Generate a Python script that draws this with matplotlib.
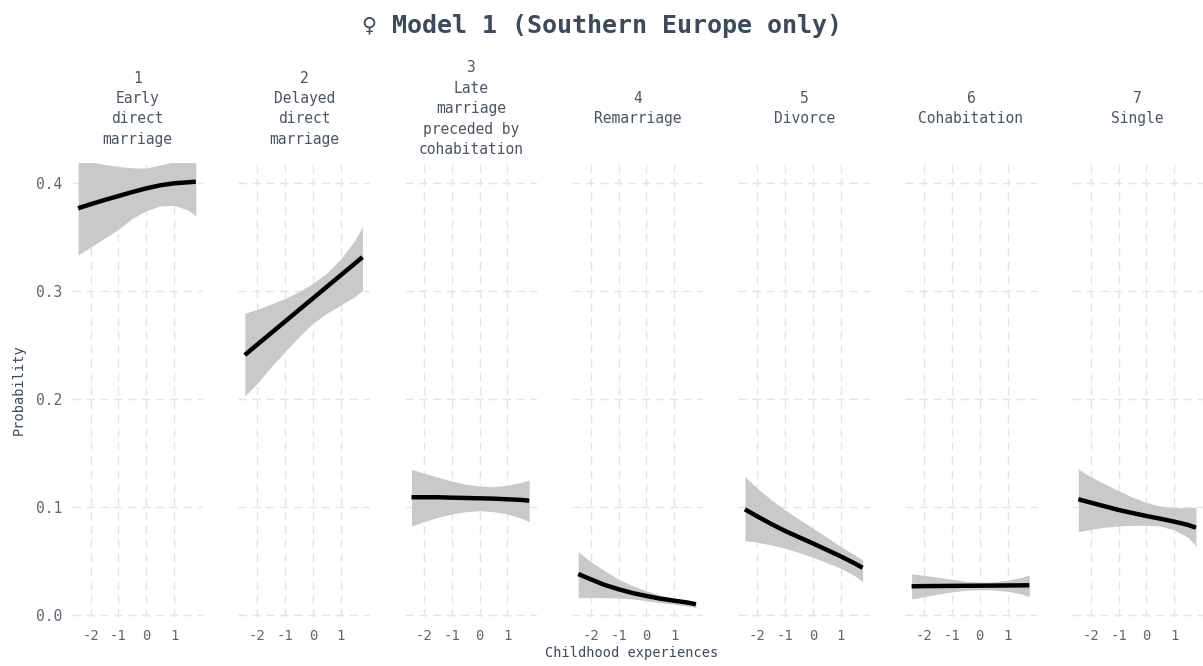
import matplotlib
matplotlib.use("Agg")
import matplotlib.pyplot as plt

plt.rcParams['font.family'] = ['DejaVu Sans Mono', 'DejaVu Sans']

# Predicted probability of each family trajectory across childhood experiences
panel_titles = [
    "1\nEarly\ndirect\nmarriage",
    "2\nDelayed\ndirect\nmarriage",
    "3\nLate\nmarriage\npreceded by\ncohabitation",
    "4\nRemarriage",
    "5\nDivorce",
    "6\nCohabitation",
    "7\nSingle",
]

x_vals = [-2.45, -2.0, -1.5, -1.0, -0.5, 0.0, 0.5, 1.0, 1.5, 1.78]

fit_1 = [0.3769, 0.3806, 0.3845, 0.3882, 0.3919, 0.3953, 0.3981, 0.4000, 0.4009, 0.4015]
low_1 = [0.3336, 0.3407, 0.3491, 0.3574, 0.3676, 0.3746, 0.3790, 0.3796, 0.3753, 0.3700]
up_1 = [0.4240, 0.4200, 0.4175, 0.4155, 0.4143, 0.4140, 0.4170, 0.4200, 0.4240, 0.4260]

fit_2 = [0.2410, 0.2507, 0.2614, 0.2721, 0.2828, 0.2935, 0.3042, 0.3149, 0.3256, 0.3316]
low_2 = [0.2031, 0.2148, 0.2302, 0.2441, 0.2580, 0.2704, 0.2796, 0.2873, 0.2950, 0.3006]
up_2 = [0.2796, 0.2833, 0.2882, 0.2935, 0.2996, 0.3074, 0.3170, 0.3300, 0.3470, 0.3600]

fit_3 = [0.1093, 0.1093, 0.1093, 0.1089, 0.1086, 0.1083, 0.1080, 0.1074, 0.1068, 0.1061]
low_3 = [0.0827, 0.0867, 0.0907, 0.0938, 0.0959, 0.0969, 0.0959, 0.0938, 0.0898, 0.0867]
up_3 = [0.1352, 0.1315, 0.1278, 0.1244, 0.1213, 0.1197, 0.1191, 0.1204, 0.1231, 0.1253]

fit_4 = [0.0382, 0.0333, 0.0281, 0.0241, 0.0206, 0.0179, 0.0154, 0.0135, 0.0117, 0.0102]
low_4 = [0.0163, 0.0163, 0.0163, 0.0160, 0.0151, 0.0135, 0.0117, 0.0102, 0.0086, 0.0074]
up_4 = [0.0589, 0.0496, 0.0413, 0.0333, 0.0274, 0.0225, 0.0188, 0.0157, 0.0135, 0.0123]

fit_5 = [0.0981, 0.0915, 0.0845, 0.0780, 0.0722, 0.0665, 0.0605, 0.0545, 0.0480, 0.0440]
low_5 = [0.0691, 0.0676, 0.0651, 0.0620, 0.0580, 0.0537, 0.0487, 0.0435, 0.0365, 0.0310]
up_5 = [0.1283, 0.1176, 0.1068, 0.0975, 0.0889, 0.0806, 0.0722, 0.0635, 0.0558, 0.0512]

fit_6 = [0.0268, 0.0270, 0.0271, 0.0272, 0.0273, 0.0274, 0.0275, 0.0276, 0.0277, 0.0278]
low_6 = [0.0151, 0.0172, 0.0197, 0.0216, 0.0231, 0.0237, 0.0234, 0.0222, 0.0197, 0.0172]
up_6 = [0.0385, 0.0370, 0.0352, 0.0333, 0.0315, 0.0306, 0.0308, 0.0324, 0.0352, 0.0373]

fit_7 = [0.1074, 0.1043, 0.1009, 0.0975, 0.0947, 0.0919, 0.0894, 0.0867, 0.0836, 0.0811]
low_7 = [0.0774, 0.0796, 0.0815, 0.0827, 0.0833, 0.0833, 0.0825, 0.0790, 0.0720, 0.0640]
up_7 = [0.1355, 0.1283, 0.1216, 0.1154, 0.1093, 0.1043, 0.1012, 0.0996, 0.0996, 0.1000]

fits = [fit_1, fit_2, fit_3, fit_4, fit_5, fit_6, fit_7]
lows = [low_1, low_2, low_3, low_4, low_5, low_6, low_7]
ups = [up_1, up_2, up_3, up_4, up_5, up_6, up_7]

x_ticks = [-2, -1, 0, 1]
x_tick_labels = ["-2", "-1", "0", "1"]
y_ticks = [0.0, 0.1, 0.2, 0.3, 0.4]
y_tick_labels = ["0.0", "0.1", "0.2", "0.3", "0.4"]

TITLE_COLOR = "#3b4a5c"
LABEL_COLOR = "#4a5666"
TICK_COLOR = "#5d6773"
GRID_COLOR = "#e4e4e4"
BAND_COLOR = "#c9c9c9"

W, H = 1203, 666
fig = plt.figure(figsize=(W / 100, H / 100), dpi=100)
fig.patch.set_facecolor("white")

left0 = 71.7 / W
width = 131.6 / W
step = 166.7 / W
bottom = (H - 617) / H
height = (617 - 163.3) / H

for i in range(7):
    ax = fig.add_axes([left0 + i * step, bottom, width, height])
    ax.set_facecolor("white")
    ax.set_xlim(-2.68, 2.05)
    ax.set_ylim(-0.0016, 0.4185)
    ax.set_xticks(x_ticks)
    ax.set_xticklabels(x_tick_labels)
    ax.set_yticks(y_ticks)
    if i == 0:
        ax.set_yticklabels(y_tick_labels)
    else:
        ax.set_yticklabels([])
    ax.tick_params(axis="both", length=0, colors=TICK_COLOR, labelsize=10)
    ax.tick_params(axis="x", pad=9)
    ax.tick_params(axis="y", pad=7, labelsize=10.5)
    for s in ax.spines.values():
        s.set_visible(False)
    ax.grid(True, color=GRID_COLOR, linewidth=1.0, linestyle=(0, (6, 4)))
    ax.set_axisbelow(True)

    ax.fill_between(x_vals, lows[i], ups[i], color=BAND_COLOR, linewidth=0, zorder=2)
    ax.plot(x_vals, fits[i], color="black", linewidth=3.2, solid_capstyle="butt",
            solid_joinstyle="round", zorder=3)

    cx = (71.7 + i * 166.7 + 131.6 / 2) / W
    fig.text(cx, (H - 108.7) / H, panel_titles[i], ha="center", va="center",
             multialignment="center", fontsize=10.5, color=LABEL_COLOR, linespacing=1.45)

fig.text(0.5, (H - 26) / H, "\u2640 Model 1 (Southern Europe only)", ha="center", va="center",
         fontsize=18, color=TITLE_COLOR, fontweight="bold")
fig.text(632 / W, (H - 653) / H, "Childhood experiences", ha="center", va="center",
         fontsize=9.8, color=TITLE_COLOR)
fig.text(18.5 / W, (H - 389.5) / H, "Probability", ha="center", va="center",
         rotation=90, fontsize=9.8, color=TITLE_COLOR)

fig.savefig("out.png", dpi=100, facecolor="white")
